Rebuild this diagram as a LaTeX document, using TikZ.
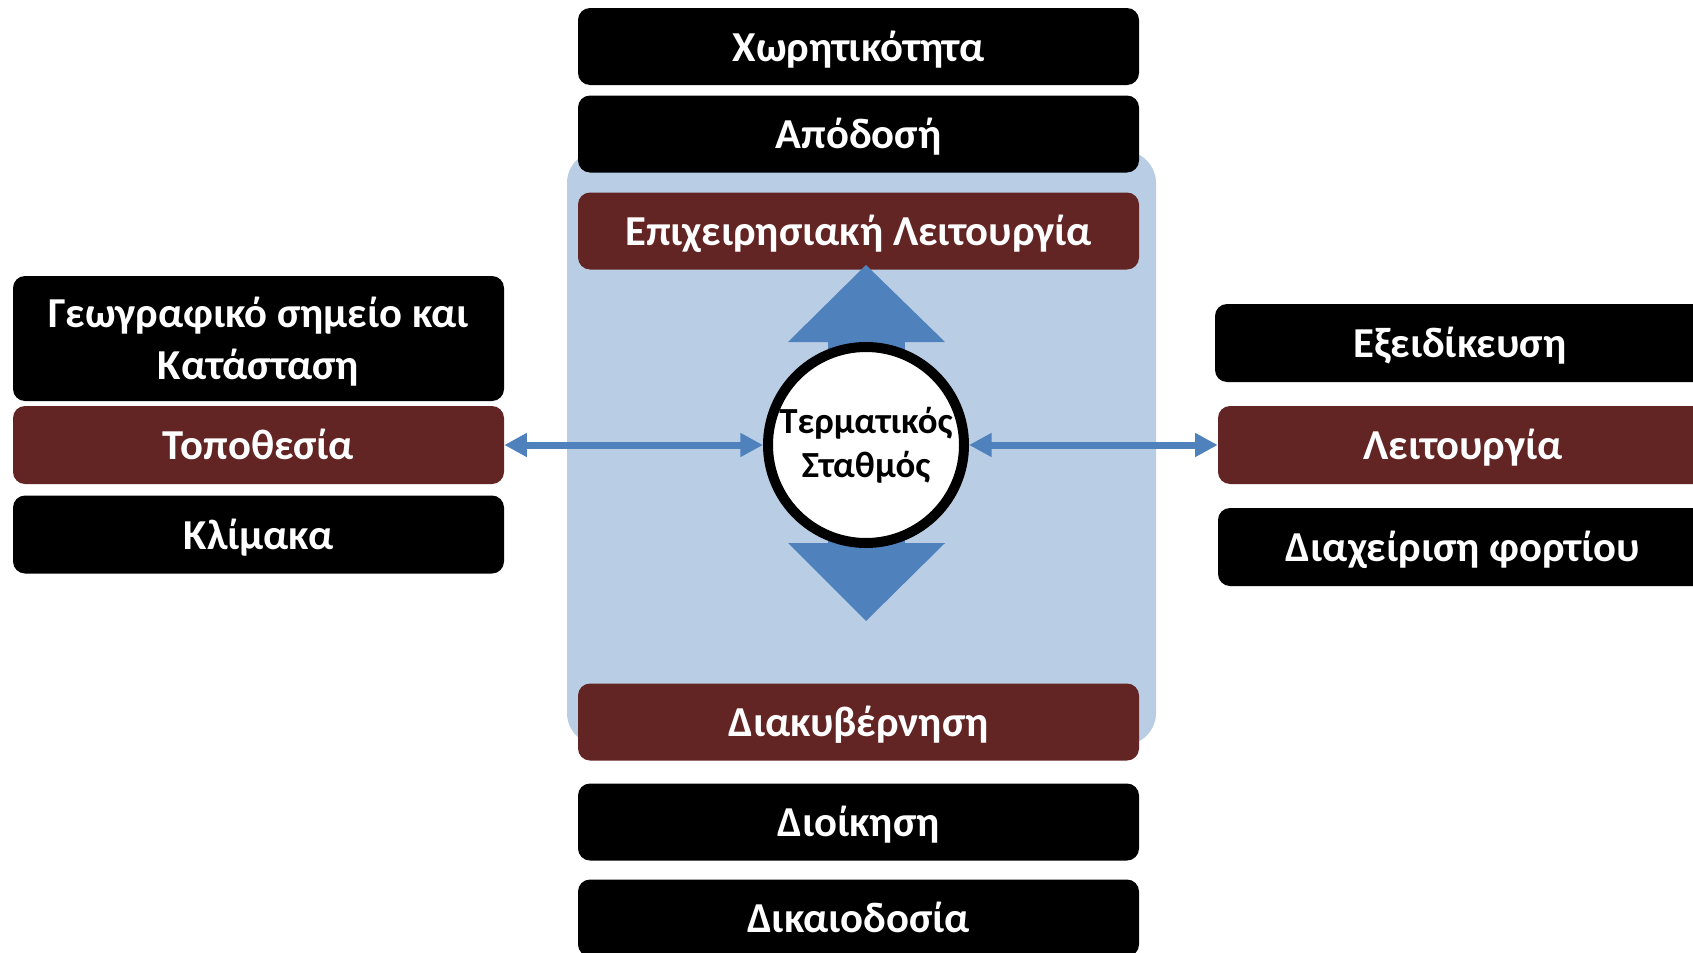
\documentclass[tikz,border=0pt]{standalone}
\usepackage{fontspec}
\setmainfont{Carlito}
\usetikzlibrary{arrows.meta}
\definecolor{boxred}{HTML}{632523}
\definecolor{bgblue}{HTML}{B9CDE5}
\definecolor{arrblue}{HTML}{4F81BD}
\begin{document}
\begin{tikzpicture}[x=0.75pt,y=-0.75pt,
  lbl/.style={rectangle, rounded corners=9pt, inner sep=0pt, text=white,
    font=\fontsize{32}{39}\selectfont\bfseries,
    text height=22pt, text depth=0pt},
  blackbox/.style={lbl, fill=black},
  redbox/.style={lbl, fill=boxred},
  midw/.style={minimum width=420.75pt, minimum height=57.75pt},
  leftw/.style={minimum width=368.25pt, minimum height=58.5pt},
  rightw/.style={minimum width=367.5pt, minimum height=58.5pt},
  link/.style={arrblue, line width=5.25pt, {Triangle[length=17pt,width=17pt]}-{Triangle[length=17pt,width=17pt]}}
]
\useasboundingbox (0,0) rectangle (1693,953);
% background panel
\fill[bgblue, rounded corners=24pt] (567,151) rectangle (1156,745);
% centre column
\node[blackbox, midw] (cap) at (858.5,46.5) {Χωρητικότητα};
\node[blackbox, midw] (perf) at (858.5,134) {Απόδοσή};
\node[redbox, midw] (oper) at (858.5,231) {Επιχειρησιακή Λειτουργία};
\node[redbox, midw] (gov) at (858.5,722) {Διακυβέρνηση};
\node[blackbox, midw] (admin) at (858.5,822) {Διοίκηση};
\node[blackbox, midw] (juris) at (858.5,918) {Δικαιοδοσία};
% left column
\node[blackbox, leftw, minimum height=93.75pt, text depth=39pt] (geo) at (258.5,338.5)
  {\begin{tabular}[t]{@{}c@{}}Γεωγραφικό σημείο και\\Κατάσταση\end{tabular}};
\node[redbox, leftw] (loc) at (258.5,445) {Τοποθεσία};
\node[blackbox, leftw] (scale) at (258.5,534.5) {Κλίμακα};
% right column
\node[blackbox, rightw] (spec) at (1460,343) {Εξειδίκευση};
\node[redbox, rightw] (func) at (1463,445) {Λειτουργία};
\node[blackbox, rightw] (cargo) at (1463,547) {Διαχείριση φορτίου};
% vertical double arrow
\fill[arrblue] (828,342) rectangle (905,543);
\fill[arrblue] (866,265) -- (945,342) -- (788,342) -- cycle;
\fill[arrblue] (788,543) -- (945,543) -- (866,621) -- cycle;
% terminal circle
\node[circle, draw=black, fill=white, line width=7.5pt, minimum size=147pt, inner sep=0pt,
  font=\fontsize{27.6}{33}\selectfont\bfseries, align=center] (term) at (866,445) {Τερματικός\\Σταθμός};
% connectors
\draw[link] (loc.east) -- (term.west);
\draw[link] (term.east) -- (func.west);
\end{tikzpicture}
\end{document}
